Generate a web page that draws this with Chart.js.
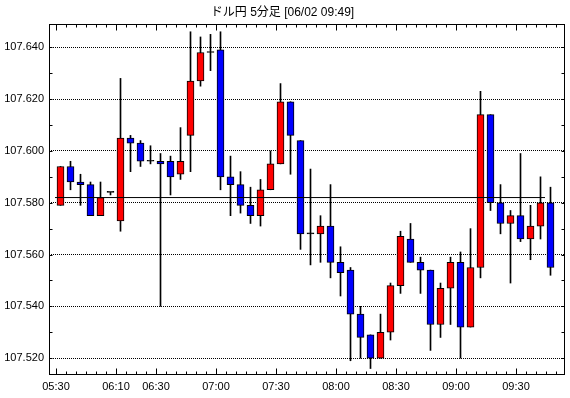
<!DOCTYPE html>
<html>
<head>
<meta charset="utf-8">
<script src="https://cdn.jsdelivr.net/npm/chart.js@4"></script>
<style>
html, body { margin: 0; padding: 0; background: #fff; }
</style>
</head>
<body>
<canvas id="c" width="570" height="398"></canvas>
<script>
// 5-minute candles (06:00 break → 05:55 / 06:00 missing)
const times = ['05:30','05:35','05:40','05:45','05:50','06:05','06:10','06:15','06:20','06:25',
               '06:30','06:35','06:40','06:45','06:50','06:55','07:00','07:05','07:10','07:15',
               '07:20','07:25','07:30','07:35','07:40','07:45','07:50','07:55','08:00','08:05',
               '08:10','08:15','08:20','08:25','08:30','08:35','08:40','08:45','08:50','08:55',
               '09:00','09:05','09:10','09:15','09:20','09:25','09:30','09:35','09:40','09:45'];
const openP  = [107.579,107.594,107.588,107.587,107.575,107.584,107.573,107.605,107.603,107.596,
                107.596,107.596,107.591,107.606,107.627,107.638,107.639,107.590,107.587,107.579,
                107.575,107.585,107.595,107.619,107.604,107.568,107.568,107.571,107.557,107.554,
                107.537,107.529,107.520,107.530,107.548,107.566,107.557,107.554,107.533,107.547,
                107.557,107.532,107.555,107.614,107.580,107.572,107.575,107.566,107.571,107.580];
const highP  = [107.594,107.596,107.591,107.588,107.588,107.584,107.628,107.606,107.604,107.602,
                107.599,107.598,107.609,107.646,107.644,107.645,107.646,107.598,107.592,107.586,
                107.589,107.600,107.626,107.619,107.604,107.593,107.575,107.587,107.563,107.555,
                107.540,107.529,107.537,107.549,107.569,107.572,107.559,107.554,107.549,107.559,
                107.561,107.570,107.623,107.614,107.587,107.577,107.599,107.579,107.590,107.586];
const lowP   = [107.579,107.585,107.579,107.575,107.575,107.583,107.569,107.592,107.594,107.595,
                107.540,107.583,107.589,107.592,107.625,107.631,107.585,107.575,107.576,107.572,
                107.571,107.585,107.595,107.591,107.562,107.556,107.557,107.551,107.544,107.519,
                107.520,107.516,107.520,107.527,107.545,107.557,107.545,107.523,107.528,107.533,
                107.520,107.532,107.551,107.577,107.568,107.549,107.565,107.558,107.566,107.552];
const closeP = [107.594,107.588,107.587,107.575,107.582,107.584,107.605,107.603,107.596,107.596,
                107.595,107.590,107.596,107.627,107.638,107.638,107.590,107.587,107.579,107.575,
                107.585,107.595,107.619,107.606,107.568,107.568,107.571,107.557,107.553,107.537,
                107.528,107.520,107.530,107.548,107.567,107.557,107.554,107.533,107.547,107.557,
                107.532,107.555,107.614,107.580,107.572,107.575,107.566,107.571,107.580,107.555];

const labelTimes = ['05:30','06:10','06:30','07:00','07:30','08:00','08:30','09:00','09:30'];
const yTicks = [107.52, 107.54, 107.56, 107.58, 107.60, 107.62, 107.64];
const refLevel = 107.582;
const refSpan = [-0.1, 48.9];

const UP = '#ff0000', DOWN = '#0000ff';
const FONT = 'Liberation Sans, "Noto Sans CJK JP", sans-serif';

const slot = i => i + 0.45;   // candle centre inside its 5-minute slot

const wicks = times.map((t, i) => ({ x: slot(i), y: [lowP[i], highP[i]] }));
const bodies = times.map((t, i) => ({ x: slot(i), y: [openP[i], closeP[i]] }));
const bodyColors = times.map((t, i) =>
    closeP[i] > openP[i] ? UP : closeP[i] < openP[i] ? DOWN : '#000');

// frame + inward tick marks on all four sides
const frameTicks = {
    id: 'frameTicks',
    afterDraw(chart) {
        const { ctx, chartArea: a, scales: { x, y } } = chart;
        const L = Math.round(a.left) + 0.5, R = Math.round(a.right) - 0.5;
        const T = Math.round(a.top) + 0.5, B = Math.round(a.bottom) - 0.5;
        ctx.save();
        ctx.strokeStyle = '#000';
        ctx.lineWidth = 1;
        ctx.beginPath();
        for (let k = 0; k <= times.length; k++) {
            const px = Math.round(x.getPixelForValue(k)) + 0.5;
            const len = labelTimes.includes(times[k]) ? 6 : 3;
            ctx.moveTo(px, B); ctx.lineTo(px, B - len);
            ctx.moveTo(px, T); ctx.lineTo(px, T + len);
        }
        for (let k = 0; k <= 12; k++) {
            const py = Math.round(y.getPixelForValue(107.52 + k * 0.01)) + 0.5;
            ctx.moveTo(L, py); ctx.lineTo(L + 3, py);
            ctx.moveTo(R, py); ctx.lineTo(R - 3, py);
        }
        ctx.stroke();
        ctx.strokeRect(L, T, R - L, B - T);
        ctx.restore();
    }
};

new Chart(document.getElementById('c'), {
    type: 'bar',
    data: {
        datasets: [
            {
                type: 'line',
                data: refSpan.map(v => ({ x: v, y: refLevel })),
                borderColor: '#000',
                borderWidth: 1,
                pointRadius: 0,
                order: 0
            },
            {
                data: bodies,
                backgroundColor: bodyColors,
                borderColor: '#000',
                borderWidth: 1,
                borderSkipped: false,
                barThickness: 7,
                minBarLength: 1,
                grouped: false,
                order: 1
            },
            {
                data: wicks,
                backgroundColor: '#000',
                borderWidth: 0,
                barThickness: 1,
                grouped: false,
                order: 2
            }
        ]
    },
    options: {
        responsive: false,
        animation: false,
        layout: { padding: { right: 5 } },
        plugins: {
            legend: { display: false },
            tooltip: { enabled: false },
            title: {
                display: true,
                text: 'ドル円 5分足 [06/02 09:49]',
                color: '#000',
                font: { family: FONT, size: 12, weight: 'normal' },
                padding: { top: 5, bottom: 4.6 }
            }
        },
        scales: {
            x: {
                type: 'linear',
                offset: false,
                min: -0.7,
                max: 50.9,
                grid: { display: false, drawTicks: false, offset: false },
                border: { display: false },
                afterBuildTicks(s) {
                    s.ticks = labelTimes.map(t => ({ value: times.indexOf(t) }));
                },
                afterFit(s) { s.height = 23; },
                ticks: {
                    autoSkip: false,
                    maxRotation: 0,
                    padding: 5,
                    color: '#000',
                    font: { family: FONT, size: 11 },
                    callback: v => times[v]
                }
            },
            y: {
                min: 107.5135,
                max: 107.649,
                beginAtZero: false,
                grid: { color: '#000', lineWidth: 1, drawTicks: false },
                border: { display: false, dash: [1, 1] },
                afterBuildTicks(s) {
                    s.ticks = yTicks.map(v => ({ value: v }));
                },
                afterFit(s) { s.width = 49; },
                ticks: {
                    padding: 5,
                    color: '#000',
                    font: { family: FONT, size: 11 },
                    callback: v => v.toFixed(3)
                }
            }
        }
    },
    plugins: [frameTicks]
});
</script>
</body>
</html>
